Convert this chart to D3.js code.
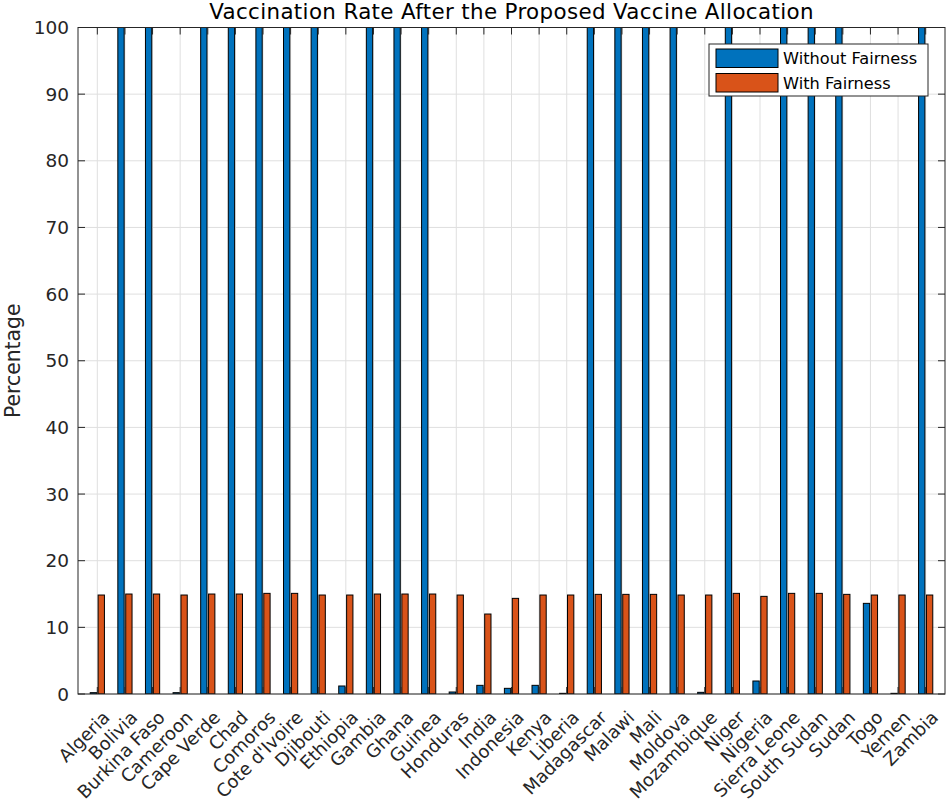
<!DOCTYPE html>
<html>
<head>
<meta charset="utf-8">
<script src="https://cdn.jsdelivr.net/npm/d3@7"></script>
<style>
  html, body { margin: 0; padding: 0; background: #fff; }
  svg { display: block; }
  text { font-family: "DejaVu Sans", sans-serif; }
</style>
</head>
<body>
<svg id="chart" width="948" height="802"></svg>
<script>
// ---- data ----
const countries = ["Algeria","Bolivia","Burkina Faso","Cameroon","Cape Verde","Chad","Comoros",
  "Cote d'Ivoire","Djibouti","Ethiopia","Gambia","Ghana","Guinea","Honduras","India","Indonesia",
  "Kenya","Liberia","Madagascar","Malawi","Mali","Moldova","Mozambique","Niger","Nigeria",
  "Sierra Leone","South Sudan","Sudan","Togo","Yemen","Zambia"];
const withoutFairness = [0.2,100,100,0.2,100,100,100,100,100,1.2,100,100,100,0.3,1.3,0.85,
  1.3,0.1,100,100,100,100,0.25,100,1.95,100,100,100,13.6,0.1,100];
const withFairness = [14.85,15.0,15.0,14.85,15.0,15.0,15.1,15.1,14.85,14.85,15.0,15.0,15.0,14.85,12.0,14.35,
  14.85,14.85,14.95,14.95,14.95,14.85,14.85,15.1,14.65,15.1,15.1,14.95,14.85,14.85,14.85];
const seriesNames = ["Without Fairness","With Fairness"];
const seriesColors = ["#0072BD","#D95319"];
const yTicks = [0,10,20,30,40,50,60,70,80,90,100];
const titleText = "Vaccination Rate After the Proposed Vaccine Allocation";
const yLabel = "Percentage";

// ---- layout ----
const L = 78, R = 945, T = 27.5, B = 694;
const svg = d3.select("#chart");
const x = d3.scaleLinear().domain([0.3, countries.length + 0.7]).range([L, R]);
const y = d3.scaleLinear().domain([0, 100]).range([B, T]);
const axisColor = "#262626";
const gridColor = "#dfdfdf";
const tickLen = 7;
const barW = 0.2286, barOff = 0.1429;

svg.append("defs").append("clipPath").attr("id","plotclip")
  .append("rect").attr("x", L).attr("y", T).attr("width", R - L).attr("height", B - T);

// grid
const grid = svg.append("g");
grid.selectAll("line.h").data(yTicks).enter().append("line")
  .attr("x1", L).attr("x2", R).attr("y1", d => y(d)).attr("y2", d => y(d))
  .attr("stroke", gridColor).attr("stroke-width", 1);
grid.selectAll("line.v").data(countries).enter().append("line")
  .attr("x1", (d,i) => x(i+1)).attr("x2", (d,i) => x(i+1)).attr("y1", T).attr("y2", B)
  .attr("stroke", gridColor).attr("stroke-width", 1);

// bars
const bars = svg.append("g").attr("clip-path", "url(#plotclip)");
[withoutFairness, withFairness].forEach((vals, s) => {
  const off = s === 0 ? -barOff : barOff;
  bars.append("g").selectAll("rect").data(vals).enter().append("rect")
    .attr("x", (d,i) => x(i+1+off-barW/2))
    .attr("width", x(barW) - x(0))
    .attr("y", d => y(d))
    .attr("height", d => y(0) - y(d))
    .attr("fill", seriesColors[s])
    .attr("stroke", "#000").attr("stroke-width", 1);
});

// axes box and ticks
const ax = svg.append("g").attr("stroke", axisColor).attr("stroke-width", 1);
ax.append("rect").attr("x", L).attr("y", T).attr("width", R - L).attr("height", B - T)
  .attr("fill", "none");
yTicks.forEach(t => {
  ax.append("line").attr("x1", L).attr("x2", L + tickLen).attr("y1", y(t)).attr("y2", y(t));
  ax.append("line").attr("x1", R).attr("x2", R - tickLen).attr("y1", y(t)).attr("y2", y(t));
});
countries.forEach((c,i) => {
  ax.append("line").attr("x1", x(i+1)).attr("x2", x(i+1)).attr("y1", B).attr("y2", B - tickLen);
  ax.append("line").attr("x1", x(i+1)).attr("x2", x(i+1)).attr("y1", T).attr("y2", T + tickLen);
});

// y tick labels
svg.append("g").selectAll("text").data(yTicks).enter().append("text")
  .attr("x", L - 9).attr("y", d => y(d)).attr("dy", "0.36em")
  .attr("text-anchor", "end").attr("font-size", 18.5).attr("fill", axisColor)
  .text(d => d);

// x tick labels
svg.append("g").selectAll("text").data(countries).enter().append("text")
  .attr("transform", (d,i) => `translate(${x(i+1) + 9},${B + 20}) rotate(-45)`)
  .attr("dy", "0.36em")
  .attr("text-anchor", "end").attr("font-size", 18).attr("fill", axisColor)
  .text(d => d);

// title
svg.append("text").attr("x", (L + R) / 2).attr("y", 18.5)
  .attr("text-anchor", "middle").attr("font-size", 21.4).attr("letter-spacing", 0.35)
  .attr("fill", "#000")
  .text(titleText);

// y label
svg.append("text").attr("transform", `translate(20,${(T + B) / 2}) rotate(-90)`)
  .attr("text-anchor", "middle").attr("font-size", 20.4).attr("fill", axisColor)
  .text(yLabel);

// legend
const lg = svg.append("g");
lg.append("rect").attr("x", 709).attr("y", 44).attr("width", 219).attr("height", 52)
  .attr("fill", "#fff").attr("stroke", axisColor).attr("stroke-width", 1);
seriesNames.forEach((n, s) => {
  const yy = 49 + s * 24.5;
  lg.append("rect").attr("x", 716).attr("y", yy).attr("width", 62).attr("height", 18.5)
    .attr("fill", seriesColors[s]).attr("stroke", "#000").attr("stroke-width", 1);
  lg.append("text").attr("x", 783).attr("y", yy + 9.5).attr("dy", "0.36em")
    .attr("font-size", 16.2).attr("fill", "#000").text(n);
});
</script>
</body>
</html>
